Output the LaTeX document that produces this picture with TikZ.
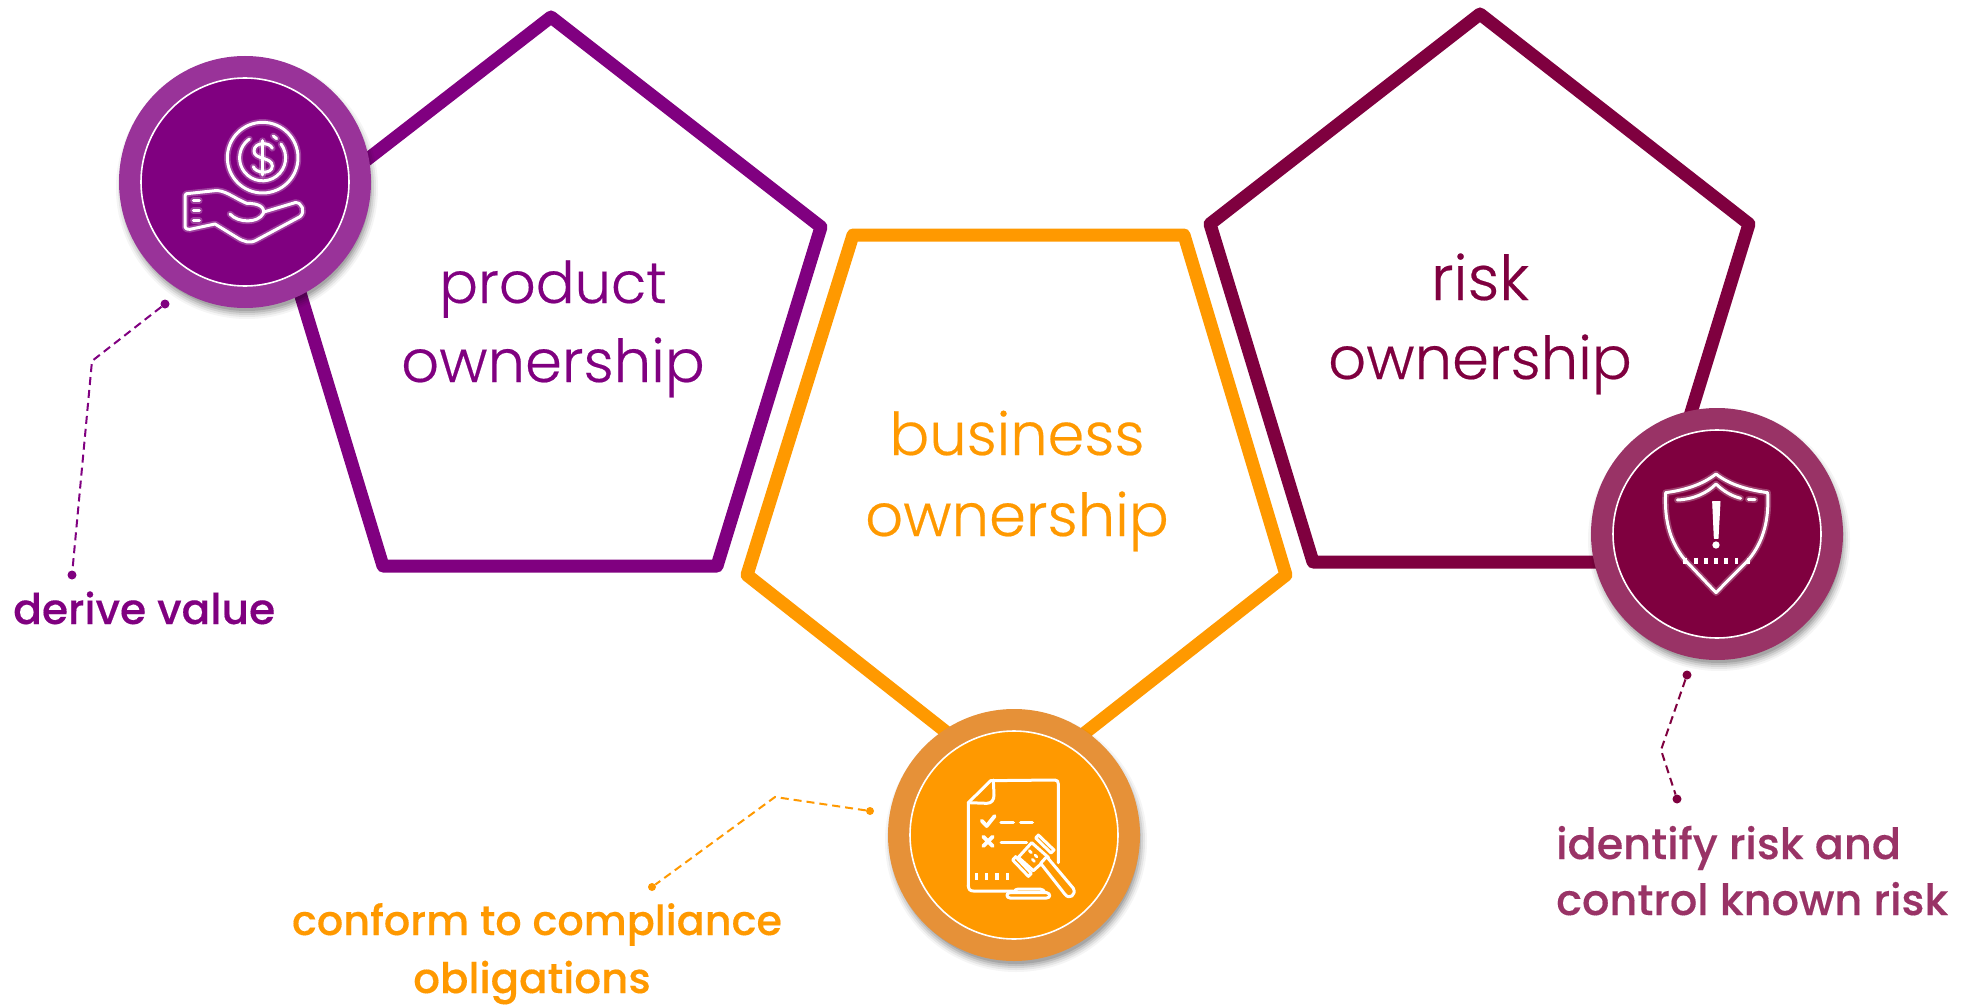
\documentclass[tikz,border=0pt]{standalone}
\usepackage{fontspec}
\setmainfont{Poppins Light}[BoldFont={Poppins Medium},BoldFeatures={FakeBold=0.3}]
\definecolor{cpur}{HTML}{800080}
\definecolor{cpurring}{HTML}{993399}
\definecolor{corg}{HTML}{FF9900}
\definecolor{corgring}{HTML}{E69138}
\definecolor{cmar}{HTML}{7F003F}
\definecolor{cmarring}{HTML}{993366}
\newfontfamily\titlefont{Poppins Light}[FakeBold=0.35]
\tikzset{
  penta/.style={line width=13pt,line join=round,fill=white},
  title/.style={anchor=base,inner sep=0pt},
  tag/.style={anchor=base west,inner sep=0pt,font=\bfseries},
  lead/.style={line width=2pt,dash pattern=on 8pt off 5pt},
  leaddot/.style={circle,inner sep=0pt,minimum size=9pt},
  ring/.style={circle,inner sep=0pt,minimum size=252pt},
  core/.style={circle,inner sep=0pt,minimum size=208pt,draw=white,line width=1.6pt},
  icon/.style={draw=white,line width=3pt,line cap=round,line join=round},
  iconglow/.style={draw=white,draw opacity=.25,line width=6.5pt,line cap=round,line join=round},
  tick/.style={draw=white,line width=3.5pt},
}
\newcommand{\tfs}[1]{\titlefont\fontsize{#1}{#1}\selectfont}
\newcommand{\lfs}[1]{\fontsize{#1}{#1}\selectfont}
\newcommand{\softshadow}[2]{%
  \foreach \r/\o in {131/.04,129/.06,127/.08,125/.10,123/.12}{
    \fill[black,opacity=\o] (#1+2,#2+6) circle[radius=\r];
  }}
\begin{document}
\begin{tikzpicture}[x=1pt,y=-1pt]
\useasboundingbox (0,0) rectangle (1976,1006);
\fill[white] (0,0) rectangle (1976,1006);

% pentagons
\draw[penta,draw=cpur] (551,17) -- (821,227) -- (717,566) -- (383,566) -- (280,227) -- cycle;
\draw[penta,draw=cmar] (1480,14) -- (1749,224) -- (1645,562) -- (1313,562) -- (1210,224) -- cycle;
\draw[penta,draw=corg] (853,235) -- (1184,235) -- (1286,575) -- (1016,787) -- (747,575) -- cycle;

% titles
\node[title,text=cpur] (t1a) at (553,303) {\tfs{57.5}product};
\node[title,text=cpur] (t1b) at (553,382) {\tfs{59.3}ownership};
\node[title,text=corg] (t2a) at (1017,455) {\tfs{59}business};
\node[title,text=corg] (t2b) at (1017,536) {\tfs{59.3}ownership};
\node[title,text=cmar] (t3a) at (1480,300) {\tfs{62}risk};
\node[title,text=cmar] (t3b) at (1480,379) {\tfs{59.3}ownership};

% discs
\softshadow{245}{182}
\softshadow{1014}{835}
\softshadow{1717}{534}
\node[ring,fill=cpurring] (d1) at (245,182) {};
\node[core,fill=cpur] (c1) at (245,182) {};
\node[ring,fill=corgring] (d2) at (1014,835) {};
\node[core,fill=corg] (c2) at (1014,835) {};
\node[ring,fill=cmarring] (d3) at (1717,534) {};
\node[core,fill=cmar] (c3) at (1717,534) {};

% icon: hand and coin
\begin{scope}[shift={(100,40)},scale=1/3]
\foreach \s in {iconglow,icon}{
  \draw[\s] (488,353) circle[radius=106];
  \draw[\s] (543,312) arc[start angle=-37,end angle=235,radius=69];
  \draw[\s] (520,288) -- (530,296);
  \draw[\s] (517,325) .. controls (510,305) and (462,305) .. (462,333) .. controls (462,360) and (517,350) .. (517,378) .. controls (517,405) and (465,400) .. (460,380);
  \draw[\s] (488,302) -- (488,405);
  \draw[\s] (390,522) .. controls (415,550) and (475,550) .. (490,520) .. controls (495,500) and (475,490) .. (440,490) .. controls (395,470) and (375,450) .. (345,452) -- (270,460) .. controls (262,460) and (255,460) .. (255,470) -- (255,555) .. controls (255,565) and (258,568) .. (270,568) -- (345,552) -- (410,592) .. controls (430,605) and (450,612) .. (470,600) -- (600,530) .. controls (618,515) and (605,485) .. (585,488) -- (495,515);
  \draw[\s] (280,482) -- (298,482) (280,512) -- (298,512) (280,542) -- (298,542);
}
\end{scope}

% icon: document and gavel
\begin{scope}[shift={(870,700)},scale=1/3]
\draw[icon] (295,560) -- (295,308) -- (362,242) -- (555,240) .. controls (562,240) and (565,245) .. (565,252) -- (565,488);
\draw[icon] (295,308) -- (350,310) .. controls (365,310) and (372,300) .. (372,285) -- (370,240);
\draw[icon] (295,555) .. controls (295,568) and (300,573) .. (310,573) -- (430,573);
\draw[icon,line width=3.8pt] (335,362) -- (350,378) -- (374,348);
\draw[icon,line width=3.4pt] (393,367) -- (430,367) (452,367) -- (487,367);
\draw[icon,line width=3.8pt] (340,410) -- (368,438) (368,410) -- (340,438);
\draw[icon] (393,428) -- (470,428);
\draw[tick] (320,520) -- (320,541) (350,520) -- (350,541) (381,520) -- (381,541) (412,520) -- (412,541);
% gavel
\draw[icon,fill=corg] (485,428) -- (535,472) -- (490,512) -- (445,472) -- cycle;
\draw[icon,fill=corg] (505,405) -- (552,450) -- (543,459) -- (497,414) -- cycle;
\draw[icon,fill=corg] (437,470) -- (484,520) -- (475,529) -- (428,480) -- cycle;
\draw[icon,fill=corg] (512,490) -- (530,470) -- (610,565) .. controls (620,585) and (597,600) .. (585,583) -- cycle;
\draw[icon,line width=2.8pt] (478,452) -- (484,458) (495,465) -- (501,471) (487,478) -- (493,484);
\draw[icon] (420,578) -- (530,578) .. controls (542,580) and (542,594) .. (530,594) -- (420,594) .. controls (408,594) and (408,578) .. (420,578);
\draw[icon] (432,578) .. controls (434,570) and (438,567) .. (445,567) -- (510,567) .. controls (518,567) and (522,572) .. (525,578);
\end{scope}

% icon: shield
\begin{scope}[shift={(1570,400)},scale=1/3]
\foreach \s in {iconglow,icon}{
  \draw[\s] (438,222) .. controls (395,255) and (345,270) .. (287,278) .. controls (283,350) and (295,420) .. (345,480) -- (438,578) -- (535,480) .. controls (585,420) and (597,350) .. (593,278) .. controls (535,270) and (480,255) .. (438,222) -- cycle;
  \draw[\s] (322,300) .. controls (370,298) and (410,280) .. (438,252) .. controls (462,275) and (485,288) .. (512,295);
  \draw[\s] (535,298) -- (555,299);
}
\draw[white,fill=white,line width=1pt,line join=round] (428,305) -- (450,305) -- (444,415) -- (433,415) -- cycle;
\fill[white] (438,435) circle[radius=11];
\draw[tick] (345,473) -- (345,492) (378,473) -- (378,492) (408,473) -- (408,492) (438,473) -- (438,492) (468,473) -- (468,492) (500,473) -- (500,492) (535,473) -- (535,492);
\end{scope}

% leaders
\node[leaddot,fill=cpur] (a1) at (165,304) {};
\coordinate (b1) at (92,361);
\node[leaddot,fill=cpur] (e1) at (72,575) {};
\draw[lead,draw=cpur] (a1) -- (b1) -- (e1);
\node[leaddot,fill=corg,minimum size=8pt] (a2) at (870,811) {};
\coordinate (b2) at (775,797);
\node[leaddot,fill=corg,minimum size=8pt] (e2) at (652,887) {};
\draw[lead,draw=corg] (a2) -- (b2) -- (e2);
\node[leaddot,fill=cmar] (a3) at (1687,675) {};
\coordinate (b3) at (1661,750);
\node[leaddot,fill=cmar] (e3) at (1677,799) {};
\draw[lead,draw=cmar] (a3) -- (b3) -- (e3);

% labels
\node[tag,text=cpur] (l1) at (13,624) {\lfs{42.4}derive value};
\node[tag,text=corg,anchor=base] (l2a) at (537,935) {\lfs{41.4}conform to compliance};
\node[tag,text=corg,anchor=base] (l2b) at (532,993) {\lfs{42}obligations};
\node[tag,text=cmarring] (l3a) at (1556,859) {\lfs{43}identify risk and};
\node[tag,text=cmarring] (l3b) at (1556,915) {\lfs{43}control known risk};
\end{tikzpicture}
\end{document}
